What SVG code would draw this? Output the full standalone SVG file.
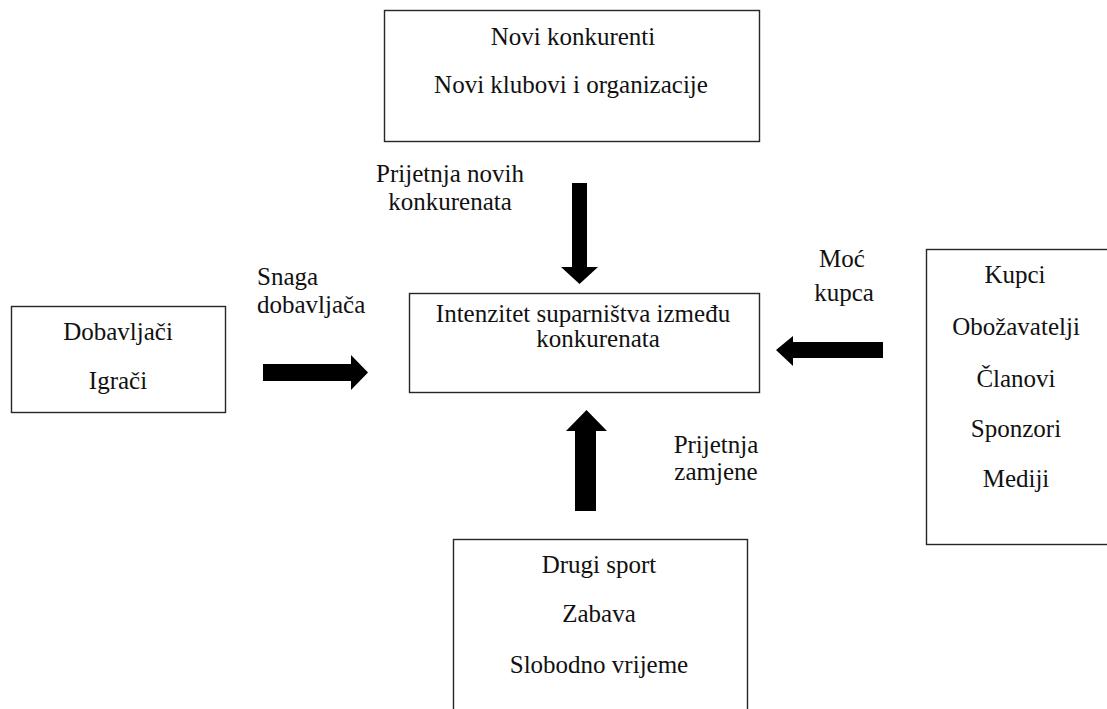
<svg xmlns="http://www.w3.org/2000/svg" width="1107" height="709" viewBox="0 0 1107 709">
<style>
  .box { fill: #ffffff; stroke: #262626; stroke-width: 1.4; }
  text { font-family: 'Liberation Serif', 'DejaVu Serif', serif; font-size: 25px; fill: #111; }
  .c { text-anchor: middle; }
  .arrow { fill: #000; }
</style>
<rect width="1107" height="709" fill="#ffffff"/>
<g id="node-novi-konkurenti">
  <rect class="box" x="384.5" y="10.5" width="375" height="131"/>
  <text class="c" x="573" y="45">Novi konkurenti</text>
  <text class="c" x="571" y="93">Novi klubovi i organizacije</text>
</g>
<g id="node-intenzitet">
  <rect class="box" x="409.5" y="293.5" width="350" height="99"/>
  <text class="c" x="583" y="322">Intenzitet suparništva između</text>
  <text class="c" x="598" y="347">konkurenata</text>
</g>
<g id="node-dobavljaci">
  <rect class="box" x="11.5" y="306.5" width="214" height="106"/>
  <text class="c" x="118" y="340">Dobavljači</text>
  <text class="c" x="118" y="389">Igrači</text>
</g>
<g id="node-kupci">
  <rect class="box" x="926.5" y="249.5" width="190" height="295"/>
  <text class="c" x="1015" y="283">Kupci</text>
  <text class="c" x="1016" y="335">Obožavatelji</text>
  <text class="c" x="1016" y="387">Članovi</text>
  <text class="c" x="1016" y="437">Sponzori</text>
  <text class="c" x="1016" y="487">Mediji</text>
</g>
<g id="node-zamjene">
  <rect class="box" x="453.5" y="539.5" width="294" height="180"/>
  <text class="c" x="599" y="573">Drugi sport</text>
  <text class="c" x="599" y="622">Zabava</text>
  <text class="c" x="599" y="673">Slobodno vrijeme</text>
</g>
<g id="connectors">
  <polygon class="arrow" points="572,183 587,183 587,267 598,267 579.5,284 561,267 572,267"/>
  <polygon class="arrow" points="263,364 351,364 351,355 368,372.5 351,390 351,381 263,381"/>
  <polygon class="arrow" points="883,342 793,342 793,336 776,350 793,366 793,358 883,358"/>
  <polygon class="arrow" points="575,511 575,431 566,431 586.5,410 607,431 596,431 596,511"/>
  <text class="c" x="450" y="182">Prijetnja novih</text>
  <text class="c" x="450" y="210">konkurenata</text>
  <text x="257" y="285">Snaga</text>
  <text x="257" y="313">dobavljača</text>
  <text class="c" x="842" y="267">Moć</text>
  <text class="c" x="844" y="301">kupca</text>
  <text class="c" x="716" y="453">Prijetnja</text>
  <text class="c" x="716" y="480">zamjene</text>
</g>
</svg>
